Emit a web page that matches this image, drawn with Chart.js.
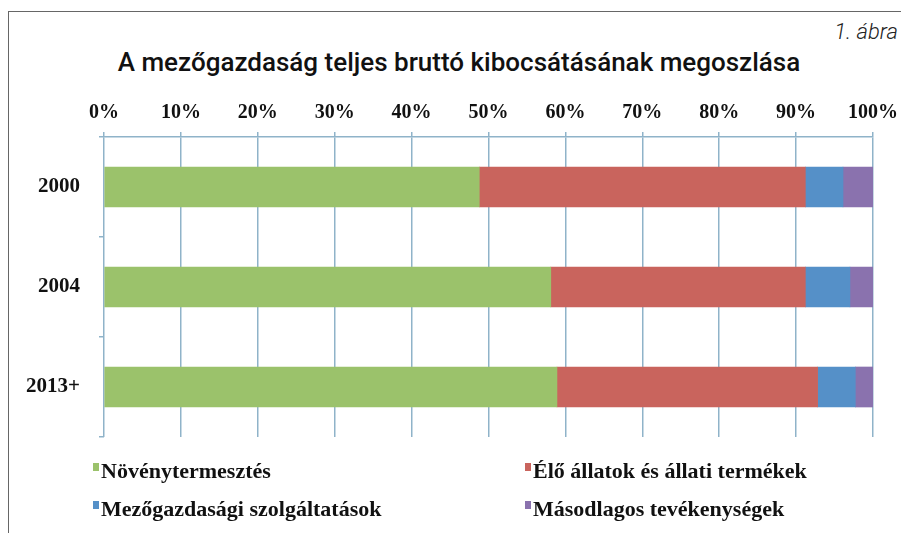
<!DOCTYPE html>
<html lang="hu">
<head>
<meta charset="utf-8">
<script src="https://cdn.jsdelivr.net/npm/chart.js@4/dist/chart.umd.min.js"></script>
<style>
  html, body { margin: 0; padding: 0; background: #fff; }
  #wrap { position: relative; width: 901px; height: 533px; overflow: hidden; }
  #frame { position: absolute; left: 8px; top: 11px; width: 900px; height: 540px;
           border-left: 1.5px solid #666; border-top: 1.5px solid #666; }
  #fig { position: absolute; right: 3px; top: 19px; font: italic 300 22px Roboto, sans-serif; color: #222; }
  #title { position: absolute; left: 0; width: 918px; top: 47px; text-align: center;
           font: 500 26px Roboto, sans-serif; color: #111; }
  canvas { position: absolute; left: 0; top: 0; }
  #legend { position: absolute; left: 93px; top: 458px; width: 800px;
            font: bold 22px "Liberation Serif", serif; color: #111; }
  .item { position: absolute; white-space: nowrap; }
  .item i { display: inline-block; width: 6px; height: 8px; margin-right: 2px; vertical-align: 7px; }
</style>
</head>
<body>
<div id="wrap">
  <div id="frame"></div>
  <div id="fig">1. ábra</div>
  <div id="title">A mezőgazdaság teljes bruttó kibocsátásának megoszlása</div>
  <canvas id="c" width="901" height="533"></canvas>
  <div id="legend"></div>
</div>
<script>
const years = ['2000', '2004', '2013+'];
const seriesNames = ['Növénytermesztés', 'Élő állatok és állati termékek',
                     'Mezőgazdasági szolgáltatások', 'Másodlagos tevékenységek'];
const crops     = [48.8, 58.1, 58.9];
const livestock = [42.4, 33.1, 33.9];
const services  = [4.9, 5.8, 4.9];
const secondary = [3.9, 3.0, 2.3];
const colors = ['#9bc26b', '#c9645d', '#5590c8', '#8a72ae'];

const values = [crops, livestock, services, secondary];
const serif = '"Liberation Serif", serif';

const chart = new Chart(document.getElementById('c'), {
  type: 'bar',
  data: {
    labels: years,
    datasets: seriesNames.map((name, i) => ({
      label: name,
      data: values[i],
      backgroundColor: colors[i],
      borderWidth: 0,
      barThickness: 40
    }))
  },
  options: {
    indexAxis: 'y',
    responsive: false,
    animation: false,
    layout: { padding: { top: 97, left: 20, right: 28, bottom: 96 } },
    plugins: { legend: { display: false }, tooltip: { enabled: false } },
    scales: {
      x: {
        position: 'top',
        stacked: true,
        min: 0,
        max: 100,
        afterFit: s => { s.height = 40; s.paddingLeft = 0; s.paddingRight = 0; },
        ticks: {
          stepSize: 10,
          padding: 7,
          color: '#111',
          font: { family: serif, size: 20, weight: 'bold' },
          callback: v => v + '%'
        },
        grid: { color: '#8fb3c9', lineWidth: 1.5, tickLength: 5 },
        border: { color: '#8fb3c9', width: 1.5 }
      },
      y: {
        stacked: true,
        afterFit: s => { s.width = 84; s.paddingTop = 0; s.paddingBottom = 0; },
        ticks: {
          padding: 19,
          color: '#111',
          font: { family: serif, size: 21, weight: 'bold' }
        },
        grid: { drawOnChartArea: false, color: '#8fb3c9', lineWidth: 1.5, tickLength: 5 },
        border: { display: false }
      }
    }
  }
});

// legend in two columns, built from the datasets
const legend = document.getElementById('legend');
chart.data.datasets.forEach((ds, i) => {
  const el = document.createElement('div');
  el.className = 'item';
  el.style.left = (i % 2 ? 432 : 0) + 'px';
  el.style.top = (Math.floor(i / 2) * 38) + 'px';
  el.innerHTML = '<i style="background:' + ds.backgroundColor + '"></i>' + ds.label;
  legend.appendChild(el);
});
</script>
</body>
</html>
